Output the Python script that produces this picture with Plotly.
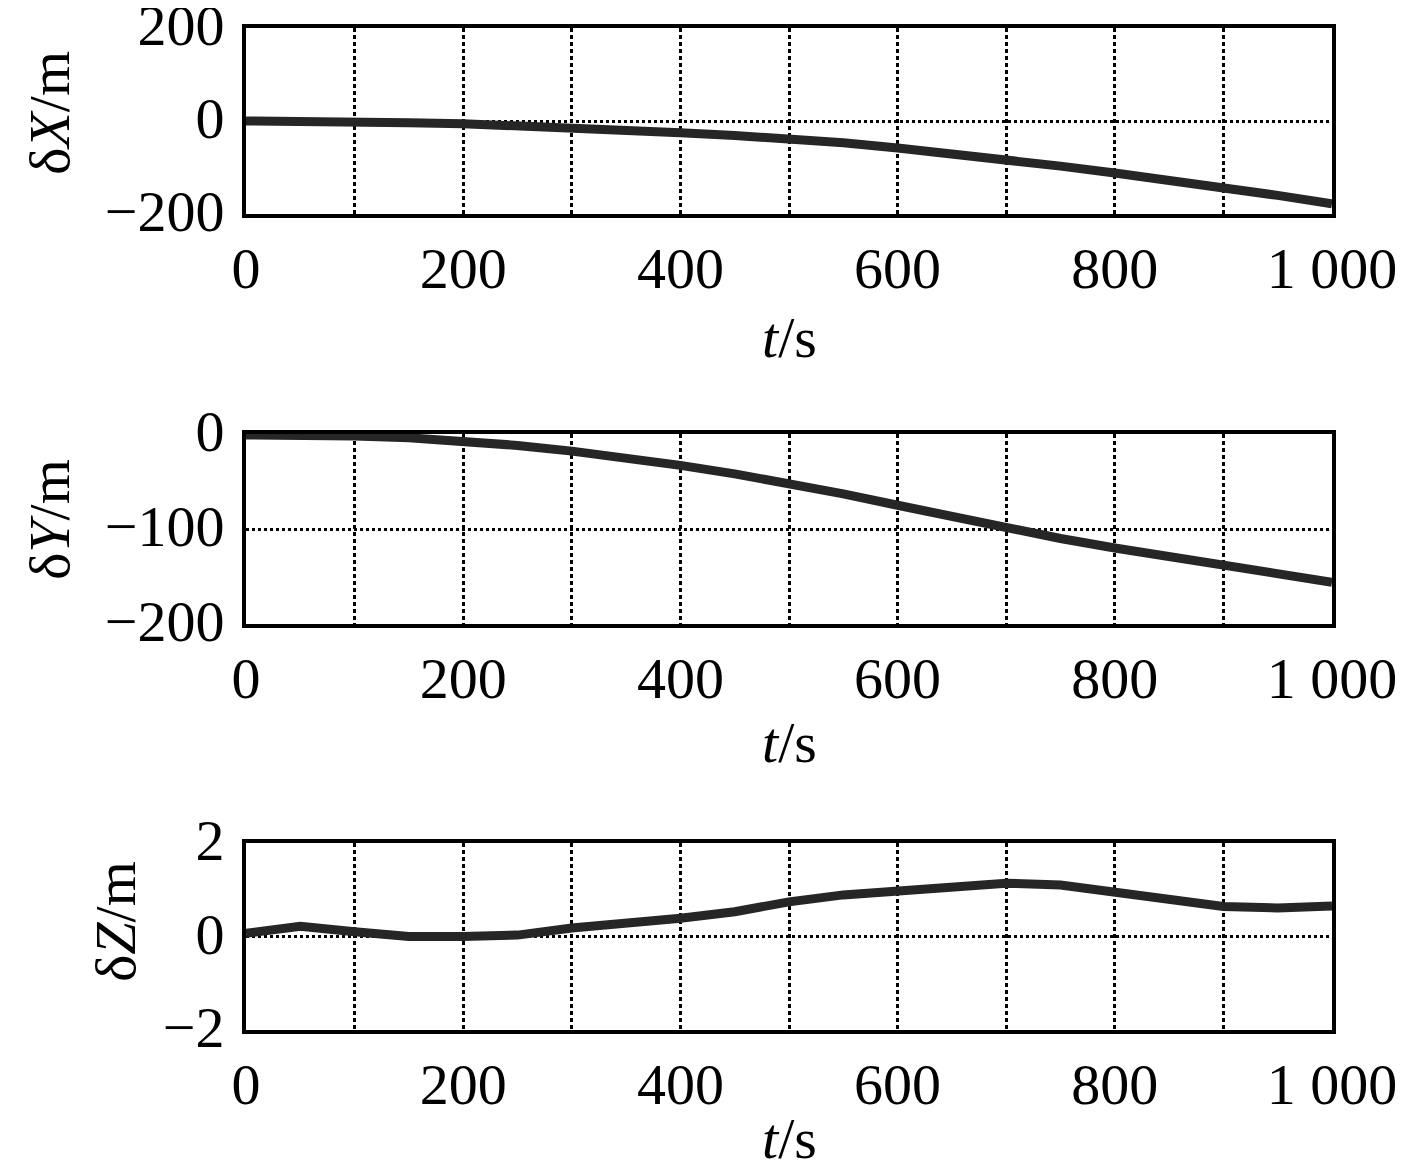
import plotly.graph_objects as go
from plotly.subplots import make_subplots

t = [0, 50, 100, 150, 200, 250, 300, 350, 400, 450, 500,
     550, 600, 650, 700, 750, 800, 850, 900, 950, 1000]
dx = [0, 0, 0, -4, -6, -10, -15, -20, -25, -31, -37,
      -47, -58, -70, -83, -97, -112, -127, -143, -160, -178]
dy = [-1, -1, -2, -4, -7, -12, -18, -25, -33, -42, -52,
      -63, -75, -87, -99, -110, -120, -129, -138, -147, -156]
dz = [0.07, 0.22, 0.10, 0.0, 0.0, 0.03, 0.18, 0.27, 0.39, 0.53, 0.74,
      0.89, 0.98, 1.08, 1.14, 1.10, 0.94, 0.78, 0.64, 0.61, 0.65]

x_ticks = [0, 100, 200, 300, 400, 500, 600, 700, 800, 900, 1000]
x_labels = ['0', '', '200', '', '400', '', '600', '', '800', '', '1 000']

panels = [
    (dx, [-200, 200], [-200, 0, 200], 'δ<i>X</i>/m'),
    (dy, [-200, 0], [-200, -100, 0], 'δ<i>Y</i>/m'),
    (dz, [-2, 2], [-2, 0, 2], 'δ<i>Z</i>/m'),
]

W, H = 1417, 1171
off = 8  # page body margin
# plot area pixel boxes (top, bottom) and title positions, in screen px
boxes = [(28, 214), (434, 624), (843, 1030)]
ytitle_x = [50, 50, 115]
ytitle_y = [113, 520, 922]
xtitle_y = [338, 742, 1138]
x0, x1 = 246, 1332

font = 'Liberation Serif, Times New Roman, serif'


def px(v):
    return (v - off) / W


def py(v):
    return 1 - (v - off) / H


fig = make_subplots(rows=3, cols=1)

for i, (vals, rng, yt, ttl) in enumerate(panels):
    r = i + 1
    fig.add_trace(go.Scatter(x=t, y=vals, mode='lines',
                             line=dict(color='#262626', width=9),
                             showlegend=False), row=r, col=1)
    top, bot = boxes[i]
    fig.update_xaxes(range=[0, 1000], tickvals=x_ticks, ticktext=x_labels,
                     domain=[px(x0), px(x1)], automargin=False,
                     showgrid=True, gridcolor='black', gridwidth=3, griddash='4px,3px',
                     showline=True, linecolor='black', linewidth=4, mirror=True,
                     zeroline=False, ticks='', ticklabelstandoff=0,
                     ticklabeloverflow='allow',
                     tickfont=dict(family=font, size=58, color='black'),
                     row=r, col=1)
    fig.update_yaxes(range=rng, tickvals=yt,
                     domain=[py(bot), py(top)], automargin=False,
                     showgrid=True, gridcolor='black', gridwidth=3, griddash='3px,3px',
                     showline=True, linecolor='black', linewidth=4, mirror=True,
                     zeroline=False, ticks='', ticklabelstandoff=6,
                     ticklabelshift=-3, ticklabeloverflow='allow',
                     tickfont=dict(family=font, size=58, color='black'),
                     row=r, col=1)
    fig.add_annotation(text=ttl, xref='paper', yref='paper',
                       x=px(ytitle_x[i]), y=py(ytitle_y[i]),
                       xanchor='center', yanchor='middle',
                       textangle=-90, showarrow=False,
                       font=dict(family=font, size=58, color='black'))
    fig.add_annotation(text='<i>t</i>/s', xref='paper', yref='paper',
                       x=px((x0 + x1) / 2), y=py(xtitle_y[i]),
                       xanchor='center', yanchor='middle',
                       showarrow=False,
                       font=dict(family=font, size=58, color='black'))

fig.update_layout(width=W, height=H, margin=dict(l=0, r=0, t=0, b=0, autoexpand=False),
                  plot_bgcolor='white', paper_bgcolor='white')

fig.write_html("out.html")
